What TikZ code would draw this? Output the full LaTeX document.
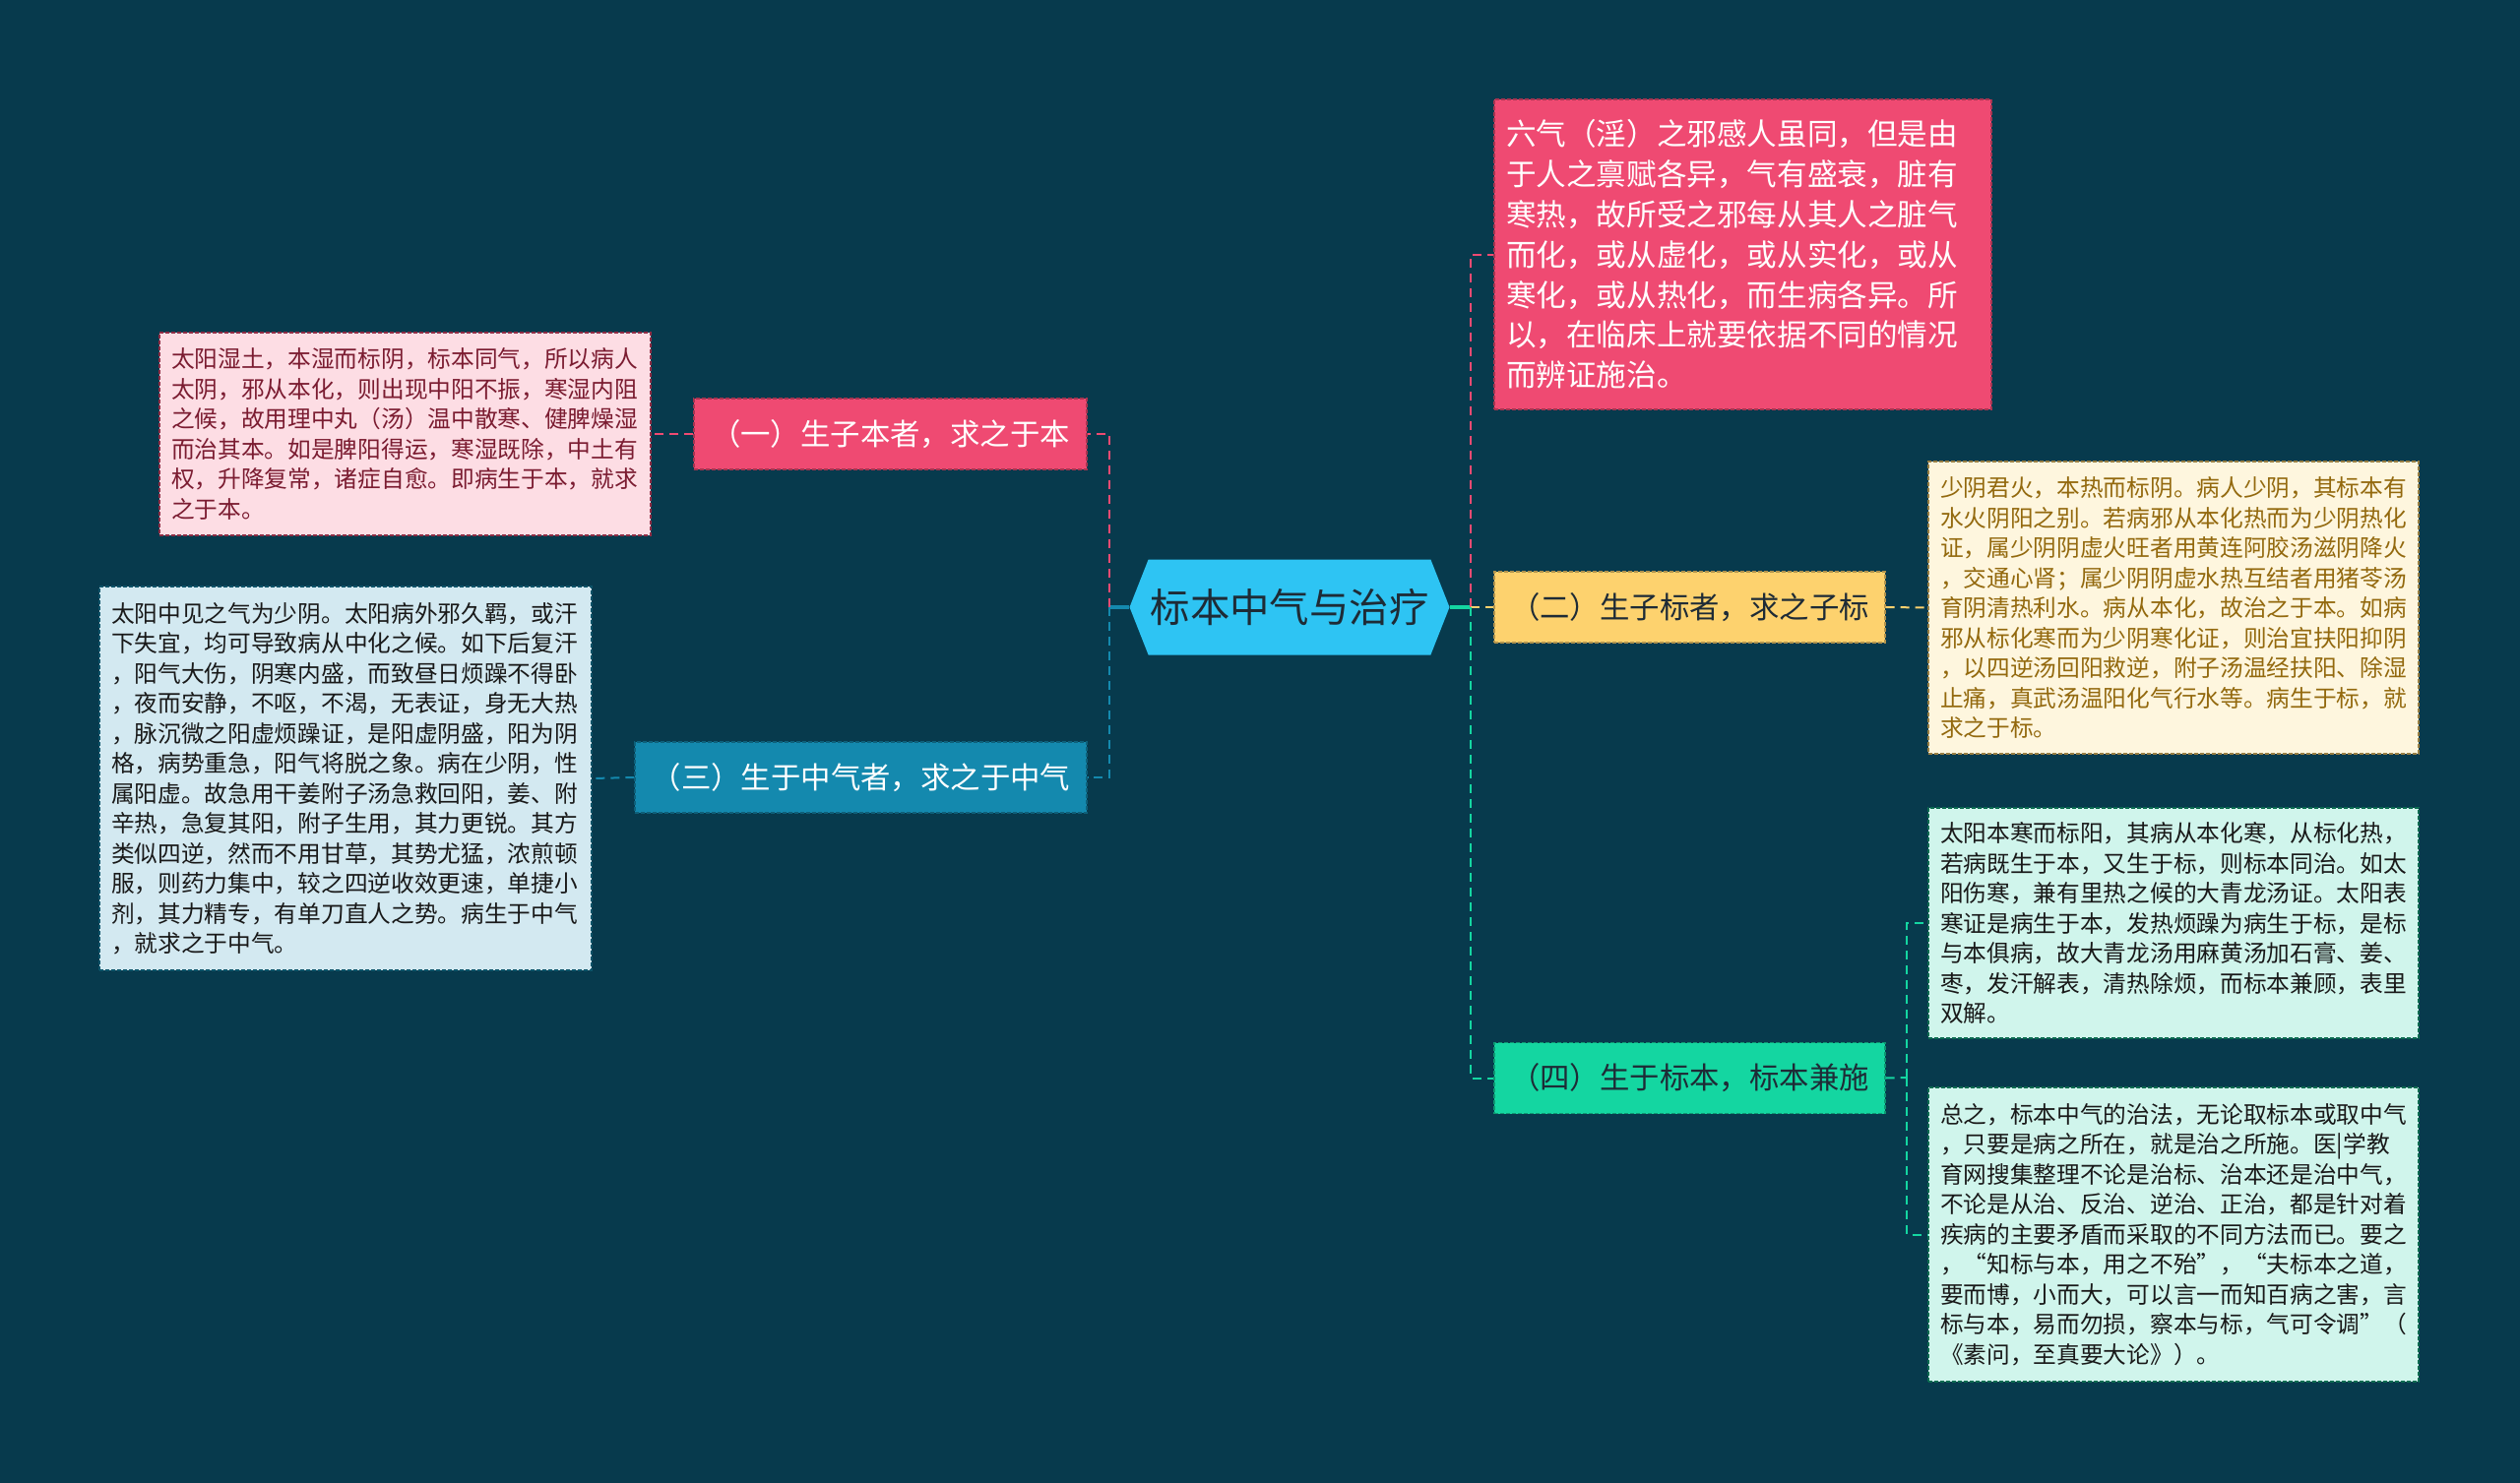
\documentclass[tikz,border=0pt]{standalone}
\usepackage{fontspec}
\setmainfont{Noto Sans CJK SC}
\usetikzlibrary{shapes.symbols}
\definecolor{bg}{HTML}{073A4D}
\definecolor{R}{HTML}{EF4A72}
\definecolor{P}{HTML}{FDDDE4}
\definecolor{Ptext}{HTML}{7B1C31}
\definecolor{B}{HTML}{1489AE}
\definecolor{L}{HTML}{D3E9F1}
\definecolor{Y}{HTML}{FDD26E}
\definecolor{Ytext}{HTML}{93690E}
\definecolor{K}{HTML}{FEF6DE}
\definecolor{G}{HTML}{14D6A1}
\definecolor{M}{HTML}{D0F5EC}
\definecolor{S}{HTML}{2EC4F3}
\definecolor{ink}{HTML}{1E2B36}
\tikzstyle{base}=[x=1pt, y=-1pt]
\tikzstyle{box}=[rectangle, dash pattern=on 4pt off 2pt, line width=1.2pt, inner sep=0pt]
\tikzstyle{branchbox}=[box, minimum height=72pt, font=\fontsize{30.4}{36}\selectfont]
\tikzstyle{notebox}=[box, align=left, inner xsep=12pt, font=\fontsize{23.7}{30.5}\selectfont]
\tikzstyle{link}=[line width=2pt, dash pattern=on 9pt off 6pt]

\begin{document}
\begin{tikzpicture}[base]
    \path [use as bounding box, fill=bg] (0,0) rectangle (2560,1507);
    % centre
    \node (root) [signal, signal to=west and east, signal pointer angle=137, fill=S,
        minimum width=325pt, minimum height=97pt, inner sep=0pt,
        font=\fontsize{40.4}{48}\selectfont, text=ink] at (1310,617) {标本中气与治疗};
    \coordinate (lj) at (1127,617);
    \coordinate (rj) at (1494,617);
    \coordinate (gj) at (1937,1095);
    % left branches
    \node (b1) [branchbox, fill=R, draw=R!70!black, text=white, minimum width=399pt] at (904.5,441) {（一）生子本者，求之于本};
    \node (b3) [branchbox, fill=B, draw=B!70!black, text=white, minimum width=459pt] at (874.5,790) {（三）生于中气者，求之于中气};
    \node (d1) [notebox, fill=P, draw=R!60!black, text=Ptext, text width=475pt, minimum height=206pt] at (411.5,441)
        {太阳湿土，本湿而标阴，标本同气，所以病人\\
         太阴，邪从本化，则出现中阳不振，寒湿内阻\\
         之候，故用理中丸（汤）温中散寒、健脾燥湿\\
         而治其本。如是脾阳得运，寒湿既除，中土有\\
         权，升降复常，诸症自愈。即病生于本，就求\\
         之于本。};
    \node (d3) [notebox, fill=L, draw=B!60!black, text=black!90, text width=476pt, minimum height=390pt] at (351,791)
        {太阳中见之气为少阴。太阳病外邪久羁，或汗\\
         下失宜，均可导致病从中化之候。如下后复汗\\
         ，阳气大伤，阴寒内盛，而致昼日烦躁不得卧\\
         ，夜而安静，不呕，不渴，无表证，身无大热\\
         ，脉沉微之阳虚烦躁证，是阳虚阴盛，阳为阴\\
         格，病势重急，阳气将脱之象。病在少阴，性\\
         属阳虚。故急用干姜附子汤急救回阳，姜、附\\
         辛热，急复其阳，附子生用，其力更锐。其方\\
         类似四逆，然而不用甘草，其势尤猛，浓煎顿\\
         服，则药力集中，较之四逆收效更速，单捷小\\
         剂，其力精专，有单刀直人之势。病生于中气\\
         ，就求之于中气。};
    % right branches
    \node (b6) [box, fill=R, draw=R!70!black, text=white, align=left, inner xsep=12pt,
        text width=481pt, minimum height=315pt, font=\fontsize{30.6}{40.8}\selectfont] at (1770.5,258.5)
        {六气（淫）之邪感人虽同，但是由\\
         于人之禀赋各异，气有盛衰，脏有\\
         寒热，故所受之邪每从其人之脏气\\
         而化，或从虚化，或从实化，或从\\
         寒化，或从热化，而生病各异。所\\
         以，在临床上就要依据不同的情况\\
         而辨证施治。};
    \node (b2) [branchbox, fill=Y, draw=Y!70!black, text=ink, minimum width=397pt] at (1716.5,617) {（二）生子标者，求之子标};
    \node (b4) [branchbox, fill=G, draw=G!70!black, text=ink, minimum width=397pt] at (1716.5,1095.5) {（四）生于标本，标本兼施};
    \node (d2) [notebox, fill=K, draw=Y!60!black, text=Ytext, text width=474pt, minimum height=297pt] at (2208,617.5)
        {少阴君火，本热而标阴。病人少阴，其标本有\\
         水火阴阳之别。若病邪从本化热而为少阴热化\\
         证，属少阴阴虚火旺者用黄连阿胶汤滋阴降火\\
         ，交通心肾；属少阴阴虚水热互结者用猪苓汤\\
         育阴清热利水。病从本化，故治之于本。如病\\
         邪从标化寒而为少阴寒化证，则治宜扶阳抑阴\\
         ，以四逆汤回阳救逆，附子汤温经扶阳、除湿\\
         止痛，真武汤温阳化气行水等。病生于标，就\\
         求之于标。};
    \node (d4a) [notebox, fill=M, draw=G!50!black, text=black!90, text width=474pt, minimum height=234pt] at (2208,938)
        {太阳本寒而标阳，其病从本化寒，从标化热，\\
         若病既生于本，又生于标，则标本同治。如太\\
         阳伤寒，兼有里热之候的大青龙汤证。太阳表\\
         寒证是病生于本，发热烦躁为病生于标，是标\\
         与本俱病，故大青龙汤用麻黄汤加石膏、姜、\\
         枣，发汗解表，清热除烦，而标本兼顾，表里\\
         双解。};
    \node (d4b) [notebox, fill=M, draw=G!50!black, text=black!90, text width=474pt, minimum height=299pt] at (2208,1254.5)
        {总之，标本中气的治法，无论取标本或取中气\\
         ，只要是病之所在，就是治之所施。医|学教\\
         育网搜集整理不论是治标、治本还是治中气，\\
         不论是从治、反治、逆治、正治，都是针对着\\
         疾病的主要矛盾而采取的不同方法而已。要之\\
         ，“知标与本，用之不殆”，“夫标本之道，\\
         要而博，小而大，可以言一而知百病之害，言\\
         标与本，易而勿损，察本与标，气可令调”（\\
         《素问，至真要大论》）。};
    % connectors
    \draw [B, line width=4pt] (root.west) -- (lj);
    \draw [link, R] (lj) |- (b1.east);
    \draw [link, B] (lj) |- (b3.east);
    \draw [G, line width=4pt] (root.east) -- (rj);
    \draw [link, R] (rj) |- (b6.west);
    \draw [link, Y] (rj) -- (b2.west);
    \draw [link, G] (rj) |- (b4.west);
    \draw [link, R] (b1.west) -- (d1.east);
    \draw [link, B] (b3.west) -- (d3.east);
    \draw [link, Y] (b2.east) -- (d2.west);
    \draw [link, G] (b4.east) -- (gj);
    \draw [link, G] (gj) |- (d4a.west);
    \draw [link, G] (gj) |- (d4b.west);
\end{tikzpicture}
\end{document}
